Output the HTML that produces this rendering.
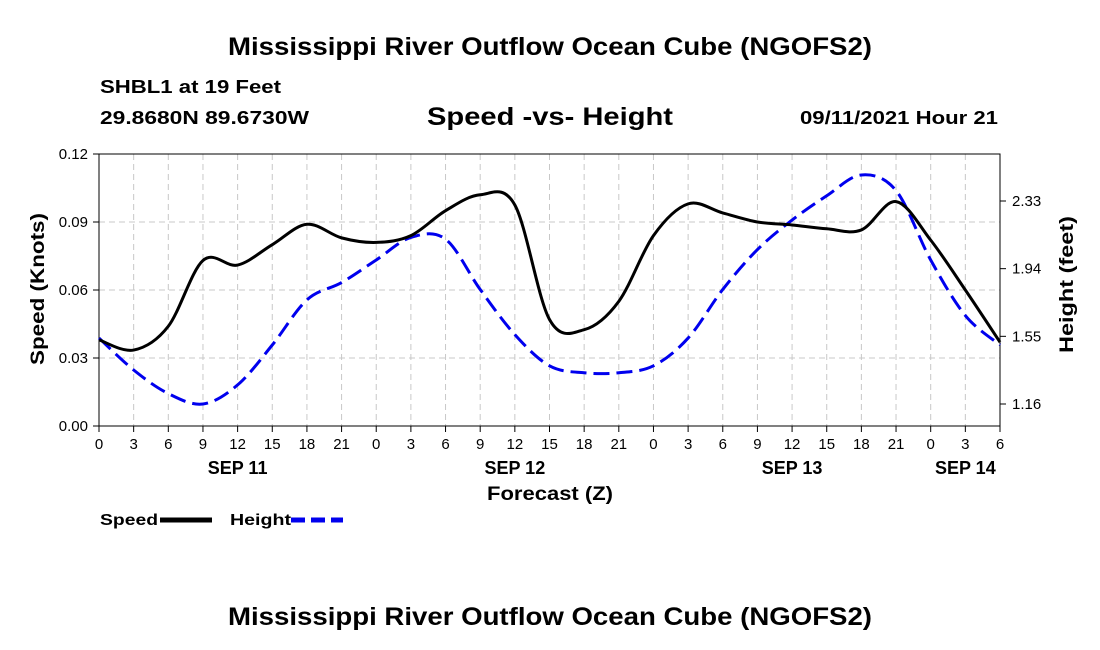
<!DOCTYPE html>
<html><head><meta charset="utf-8"><style>
body{margin:0;background:#fff;}
svg{display:block;font-family:"Liberation Sans",sans-serif;}
</style></head><body>
<svg id="chart" width="1100" height="650">
<text x="228" y="55" font-size="25" font-weight="bold" textLength="644" lengthAdjust="spacingAndGlyphs">Mississippi River Outflow Ocean Cube (NGOFS2)</text>
<text x="100" y="93" font-size="18" font-weight="bold" textLength="181" lengthAdjust="spacingAndGlyphs">SHBL1 at 19 Feet</text>
<text x="100" y="124" font-size="18" font-weight="bold" textLength="209" lengthAdjust="spacingAndGlyphs">29.8680N  89.6730W</text>
<text x="427" y="125" font-size="25" font-weight="bold" textLength="246" lengthAdjust="spacingAndGlyphs">Speed -vs- Height</text>
<text x="800" y="124" font-size="18" font-weight="bold" textLength="198" lengthAdjust="spacingAndGlyphs">09/11/2021 Hour 21</text>
<g id="grid"></g>
<g id="axes"></g>
<g id="series"></g>
<text x="487" y="500" font-size="19" font-weight="bold" textLength="126" lengthAdjust="spacingAndGlyphs">Forecast (Z)</text>
<text transform="translate(44,365) rotate(-90)" font-size="19" font-weight="bold" textLength="152" lengthAdjust="spacingAndGlyphs">Speed (Knots)</text>
<text transform="translate(1073,353) rotate(-90)" font-size="19" font-weight="bold" textLength="137" lengthAdjust="spacingAndGlyphs">Height (feet)</text>
<g>
<text x="100" y="525" font-size="16" font-weight="bold" textLength="58" lengthAdjust="spacingAndGlyphs">Speed</text>
<line x1="160" y1="520" x2="212" y2="520" stroke="#000" stroke-width="5"/>
<text x="230" y="525" font-size="16" font-weight="bold" textLength="61" lengthAdjust="spacingAndGlyphs">Height</text>
<line x1="291" y1="520" x2="343" y2="520" stroke="#0000ee" stroke-width="5" stroke-dasharray="14,6"/>
</g>
<text x="228" y="625" font-size="25" font-weight="bold" textLength="644" lengthAdjust="spacingAndGlyphs">Mississippi River Outflow Ocean Cube (NGOFS2)</text>
</svg>
<script>
const hours=[0,3,6,9,12,15,18,21,24,27,30,33,36,39,42,45,48,51,54,57,60,63,66,69,72,75,78];
const speed=[0.038,0.0335,0.044,0.073,0.071,0.080,0.089,0.083,0.081,0.084,0.095,0.102,0.0975,0.047,0.0425,0.055,0.084,0.098,0.094,0.090,0.0887,0.087,0.0865,0.099,0.082,0.060,0.037];
const height=[1.54,1.356,1.22,1.16,1.27,1.50,1.76,1.86,1.99,2.12,2.11,1.82,1.56,1.38,1.34,1.34,1.38,1.54,1.82,2.05,2.22,2.36,2.48,2.39,1.99,1.67,1.50];
const xTickLabels=["0","3","6","9","12","15","18","21","0","3","6","9","12","15","18","21","0","3","6","9","12","15","18","21","0","3","6"];
const leftTicks=[0,0.03,0.06,0.09,0.12];
const rightTicks=[1.16,1.55,1.94,2.33];
const dayLabels=["SEP 11","SEP 12","SEP 13","SEP 14"];
const dayHours=[12,36,60,75];
const X0=99,X1=1000,Y0=426,Y1=154;
const xs=h=>X0+h/78*(X1-X0);
const ysL=v=>Y0-v/0.12*(Y0-Y1);
const ysR=v=>404-(v-1.16)/0.39*67.67;
const NS="http://www.w3.org/2000/svg";
function mk(p,t,a){const e=document.createElementNS(NS,t);for(const k in a)e.setAttribute(k,a[k]);p.appendChild(e);return e;}
const grid=document.getElementById('grid'),axes=document.getElementById('axes'),ser=document.getElementById('series');
hours.forEach((h,i)=>{const x=xs(h);
 if(i>0&&i<hours.length-1){const l=mk(grid,'line',{x1:x,x2:x,y1:Y1,y2:Y0,stroke:'#c8c8c8','stroke-dasharray':'6,4'});}
 const tk=mk(axes,'line',{x1:x,x2:x,y1:Y0,y2:Y0+6,stroke:'#000'});
 const t=mk(axes,'text',{x:x,y:449,'text-anchor':'middle','font-size':15});t.textContent=xTickLabels[i];
});
dayLabels.forEach((d,i)=>{const t=mk(axes,'text',{x:xs(dayHours[i]),y:474,'text-anchor':'middle','font-size':18,'font-weight':'bold'});t.textContent=d;});
leftTicks.forEach(v=>{const y=ysL(v);
 if(v>0&&v<0.12){const l=mk(grid,'line',{x1:X0,x2:X1,y1:y,y2:y,stroke:'#c8c8c8','stroke-dasharray':'6,4'});}
 const tk=mk(axes,'line',{x1:X0-6,x2:X0,y1:y,y2:y,stroke:'#000'});
 const t=mk(axes,'text',{x:88,y:y+5,'text-anchor':'end','font-size':15});t.textContent=v.toFixed(2);
});
rightTicks.forEach(v=>{const y=ysR(v);
 const tk=mk(axes,'line',{x1:X1,x2:X1+6,y1:y,y2:y,stroke:'#000'});
 const t=mk(axes,'text',{x:1012,y:y+5,'font-size':15});t.textContent=v.toFixed(2);
});
const fr=mk(axes,'rect',{x:X0,y:Y1,width:X1-X0,height:Y0-Y1,fill:'none',stroke:'#000','stroke-width':1});

function smooth(pts){let d=`M${pts[0][0]},${pts[0][1]}`;for(let i=0;i<pts.length-1;i++){const p0=pts[i-1]||pts[i],p1=pts[i],p2=pts[i+1],p3=pts[i+2]||p2;
 d+=` C${p1[0]+(p2[0]-p0[0])/6},${p1[1]+(p2[1]-p0[1])/6} ${p2[0]-(p3[0]-p1[0])/6},${p2[1]-(p3[1]-p1[1])/6} ${p2[0]},${p2[1]}`;}return d;}
const hp=mk(ser,'path',{d:smooth(hours.map((h,i)=>[xs(h),ysR(height[i])])),fill:'none',stroke:'#0000ee','stroke-width':3,'stroke-dasharray':'16,7'});

const sp=mk(ser,'path',{d:smooth(hours.map((h,i)=>[xs(h),ysL(speed[i])])),fill:'none',stroke:'#000','stroke-width':3});

</script>
</body></html>
